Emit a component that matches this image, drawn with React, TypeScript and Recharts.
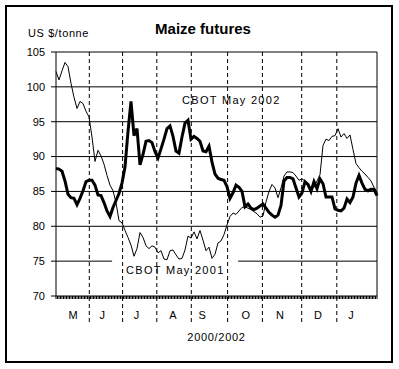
import { LineChart, Line, XAxis, YAxis, ReferenceLine } from 'recharts';

// CBOT May 2001 contract (thin line), one value per sampled trading day
const may2001 = [
  102.2, 101.0, 102.3, 103.5, 102.9, 100.5, 98.5, 96.9, 97.9, 97.6,
  96.5, 95.7, 92.8, 89.3, 90.9, 90.1, 88.9, 87.3, 85.9, 85.1,
  83.4, 80.8, 80.5, 79.4, 78.4, 77.3, 75.7, 76.8, 79.1, 78.4,
  77.2, 76.8, 77.2, 77.0, 76.2, 76.5, 75.3, 75.2, 76.5, 76.6,
  75.9, 75.3, 75.4, 76.6, 78.6, 78.3, 79.2, 78.2, 79.4, 78.0,
  76.5, 77.0, 75.4, 76.0, 77.6, 77.9, 78.8, 80.2, 81.4, 81.9,
  81.7, 82.2, 82.7, 82.8, 82.6, 82.4, 82.1, 81.8, 81.3, 81.5,
  83.5, 85.0, 86.0, 85.5, 84.1, 85.5, 87.2, 87.8, 87.8, 87.7,
  87.2, 86.6, 86.8, 86.5, 85.7, 85.6, 85.6, 86.5, 87.4, 91.6,
  92.5, 92.3, 92.9, 93.0, 94.0, 92.8, 93.3, 92.6, 93.1, 91.0,
  89.0, 88.4, 87.9, 87.5, 87.0, 86.5, 85.6, 84.8,
];

// CBOT May 2002 contract (thick line)
const may2002 = [
  88.3, 88.2, 87.9, 86.5, 84.6, 84.1, 84.0, 83.1, 84.0, 85.1,
  86.4, 86.6, 86.6, 85.9, 84.5, 84.4, 83.4, 82.2, 81.4, 82.7,
  83.7, 84.7, 86.2, 88.5, 93.6, 97.9, 93.0, 94.0, 88.8, 90.3,
  92.2, 92.3, 92.0, 90.7, 89.8, 91.1, 92.5, 94.0, 94.4, 92.9,
  90.8, 90.5, 92.8, 94.8, 95.2, 92.5, 92.9, 92.6, 92.2, 90.8,
  90.7, 91.5, 89.2, 87.5, 86.9, 86.7, 86.6, 85.7, 84.0, 84.8,
  85.9, 85.6, 85.0, 82.8, 83.2, 82.6, 82.4, 82.6, 82.9, 83.2,
  82.6, 82.0, 81.6, 81.3, 81.6, 83.0, 86.5, 87.0, 87.0, 86.8,
  85.5, 84.2, 84.8, 86.4, 86.0, 85.0, 86.4, 85.4, 86.8, 86.1,
  84.2, 84.2, 84.2, 82.5, 82.3, 82.2, 82.6, 83.9, 83.4, 84.2,
  86.2, 87.3, 86.2, 85.3, 85.1, 85.3, 85.3, 84.4,
];

const monthLabels = ['M', 'J', 'J', 'A', 'S', 'O', 'N', 'D', 'J'];
const monthCenters = [5.7, 15.4, 26.8, 39, 48.7, 63.3, 74.7, 87.3, 98.3];
const monthBreaks = [11.1, 22.2, 33.6, 45.1, 57.2, 68.8, 81.9, 93.6];
const yTicks = [70, 75, 80, 85, 90, 95, 100, 105];
const gridLevels = [80, 85, 90, 95, 100];

const lastDay = may2001.length - 1;
const dayTicks = Array.from({ length: lastDay * 2 + 1 }, (_, k) => k / 2);

const chartData = may2001.map((v, i) => ({ day: i, may2001: v, may2002: may2002[i] }));

const font = '"Liberation Sans", Arial, sans-serif';

// dashed month divider that also runs down through the month labels
const Divider = (p: any) => {
  const top = Math.min(p.y1, p.y2);
  const bottom = Math.max(p.y1, p.y2) + 27;
  return <line x1={p.x1} x2={p.x2} y1={top} y2={bottom} stroke="#000" strokeDasharray="4 3" />;
};

// short daily tick hanging under the axis
const DayTick = ({ x, y }: any) => (
  <line x1={x} x2={x} y1={y} y2={y + 3} stroke="#000" strokeWidth={1} />
);

const MonthTick = ({ x, y, payload }: any) => {
  const idx = monthCenters.indexOf(payload.value);
  return (
    <text x={x} y={y + 11} textAnchor="middle" fontSize={11} fontFamily={font} fill="#000">
      {monthLabels[idx]}
    </text>
  );
};

export default function App() {
  return (
    <div style={{ position: 'fixed', left: 0, top: 0, width: 399, height: 369, background: '#fff' }}>
      <div style={{ position: 'absolute', left: 0, width: 399, top: 20, textAlign: 'center', paddingLeft: 7, boxSizing: 'border-box', fontFamily: font, fontWeight: 'bold', fontSize: 15 }}>
        Maize futures
      </div>
      <div style={{ position: 'absolute', left: 28, top: 27, fontFamily: font, fontSize: 11, letterSpacing: 0.6 }}>
        US $/tonne
      </div>
      <div style={{ position: 'absolute', left: 182, top: 94, fontFamily: font, fontSize: 11, letterSpacing: 1.3 }}>
        CBOT May 2002
      </div>
      <div style={{ position: 'absolute', left: 126, top: 264, fontFamily: font, fontSize: 11, letterSpacing: 1.3 }}>
        CBOT May 2001
      </div>
      <div style={{ position: 'absolute', left: 0, top: 0 }}>
        <LineChart width={399} height={369} data={chartData} margin={{ top: 52, right: 22, bottom: 0, left: 16 }}>
          <XAxis
            dataKey="day"
            type="number"
            domain={[0, lastDay]}
            ticks={dayTicks}
            interval={0}
            tick={<DayTick />}
            tickLine={false}
            tickSize={0}
            tickMargin={0}
            height={10}
            stroke="#000"
          />
          <XAxis
            xAxisId="m"
            dataKey="day"
            type="number"
            domain={[0, lastDay]}
            ticks={monthCenters}
            interval={0}
            tick={<MonthTick />}
            tickLine={false}
            axisLine={false}
            tickSize={0}
            height={63}
            label={{ value: '2000/2002', position: 'insideBottom', offset: 28, fontSize: 11, fontFamily: font, fill: '#000', letterSpacing: 0.7 }}
          />
          <YAxis
            domain={[70, 105]}
            ticks={yTicks}
            interval={0}
            width={40}
            tickSize={5}
            tickMargin={6}
            stroke="#000"
            tick={{ fill: '#000', fontSize: 11, fontFamily: font }}
          />
          {gridLevels.map((g) => (
            <ReferenceLine key={g} y={g} stroke="#000" />
          ))}
          <ReferenceLine y={105} stroke="#000" />
          <ReferenceLine segment={[{ x: 0, y: 75 }, { x: 18.7, y: 75 }]} stroke="#000" />
          <ReferenceLine segment={[{ x: 60.7, y: 75 }, { x: lastDay, y: 75 }]} stroke="#000" />
          <ReferenceLine x={lastDay} stroke="#000" />
          {monthBreaks.map((b) => (
            <ReferenceLine key={b} x={b} stroke="#000" shape={Divider} />
          ))}
          <Line dataKey="may2001" stroke="#000" strokeWidth={1} dot={false} isAnimationActive={false} />
          <Line dataKey="may2002" stroke="#000" strokeWidth={3} dot={false} isAnimationActive={false} />
        </LineChart>
      </div>
      {/* outer frame */}
      <div style={{ position: 'absolute', left: 5, top: 5, width: 384, height: 354, border: '2px solid #000', pointerEvents: 'none' }} />
    </div>
  );
}
